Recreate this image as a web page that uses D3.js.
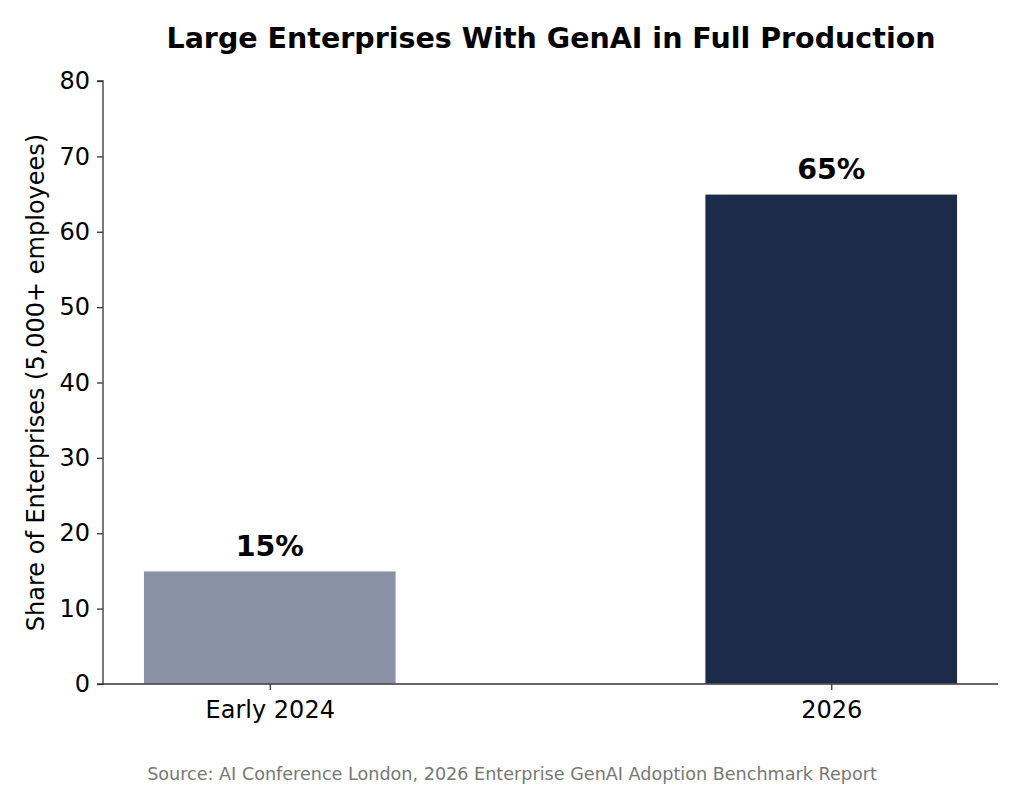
<!DOCTYPE html>
<html>
<head>
<meta charset="utf-8">
<script src="https://cdn.jsdelivr.net/npm/d3@7"></script>
<style>
  body { margin: 0; background: #fff; }
  text { font-family: "DejaVu Sans", sans-serif; }
</style>
</head>
<body>
<div id="chart"></div>
<script>
const categories = ["Early 2024", "2026"];
const shares = [15, 65];
const barColors = ["#8a93a6", "#1c2b4a"];
const yTicks = [0, 10, 20, 30, 40, 50, 60, 70, 80];

const W = 1024, H = 788;
const margin = {top: 81, right: 26, bottom: 104, left: 103};
const width = W - margin.left - margin.right,
      height = H - margin.top - margin.bottom;

const svg = d3.select("#chart")
              .append("svg")
              .attr("width", W)
              .attr("height", H);
const g = svg.append("g")
             .attr("transform", `translate(${margin.left},${margin.top})`);

const xScale = d3.scalePoint()
                 .domain(categories)
                 .range([0, width])
                 .padding(0.297);
const yScale = d3.scaleLinear()
                 .domain([0, 80])
                 .range([height, 0]);
const barW = xScale.step() * 0.45;

const data = categories.map((c, i) => ({cat: c, value: shares[i], color: barColors[i]}));

g.selectAll("rect.bar")
 .data(data)
 .enter()
 .append("rect")
 .attr("class", "bar")
 .attr("x", d => xScale(d.cat) - barW / 2)
 .attr("y", d => yScale(d.value))
 .attr("width", barW)
 .attr("height", d => height - yScale(d.value))
 .attr("fill", d => d.color)
 .attr("stroke", "#ffffff")
 .attr("stroke-width", 1);

g.selectAll("text.val")
 .data(data)
 .enter()
 .append("text")
 .attr("class", "val")
 .attr("x", d => xScale(d.cat))
 .attr("y", d => yScale(d.value) - 15)
 .attr("text-anchor", "middle")
 .style("font-size", "28.5px")
 .style("font-weight", "bold")
 .text(d => d.value + "%");

const yAxis = g.append("g")
               .call(d3.axisLeft(yScale).tickValues(yTicks).tickSize(6).tickPadding(7));
const xAxis = g.append("g")
               .attr("transform", `translate(0,${height})`)
               .call(d3.axisBottom(xScale).tickSize(6).tickPadding(11).tickSizeOuter(0));

[yAxis, xAxis].forEach(a => {
  a.select(".domain").attr("stroke", "#333").attr("stroke-width", 1.3);
  a.selectAll(".tick line").attr("stroke", "#333").attr("stroke-width", 1.3);
  a.selectAll(".tick text")
   .attr("fill", "#000")
   .style("font-family", "DejaVu Sans, sans-serif")
   .style("font-size", "24px");
});
yAxis.select(".domain").attr("d", `M-6,0H0V${height}H-6`);
xAxis.select(".domain").attr("d", `M0,0H${width}`);

svg.append("text")
   .attr("x", 551)
   .attr("y", 48)
   .attr("text-anchor", "middle")
   .style("font-size", "28.5px")
   .style("font-weight", "bold")
   .text("Large Enterprises With GenAI in Full Production");

svg.append("text")
   .attr("transform", `translate(44,${margin.top + height / 2}) rotate(-90)`)
   .attr("text-anchor", "middle")
   .style("font-size", "24px")
   .text("Share of Enterprises (5,000+ employees)");

svg.append("text")
   .attr("x", 512)
   .attr("y", 780)
   .attr("text-anchor", "middle")
   .attr("fill", "#777")
   .style("font-size", "17.6px")
   .text("Source: AI Conference London, 2026 Enterprise GenAI Adoption Benchmark Report");
</script>
</body>
</html>
